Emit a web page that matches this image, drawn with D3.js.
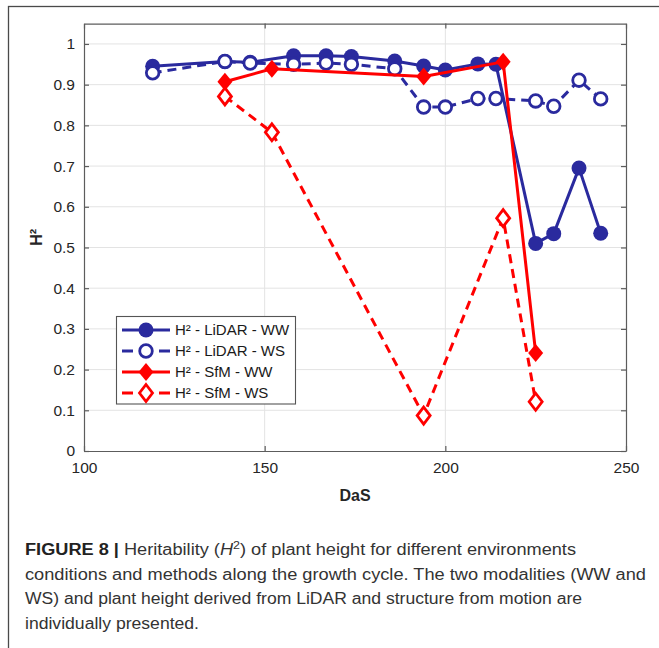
<!DOCTYPE html>
<html>
<head>
<meta charset="utf-8">
<script src="https://cdn.jsdelivr.net/npm/d3@7"></script>
<style>
  html, body { margin: 0; padding: 0; background: #fff; }
  svg { display: block; }
</style>
</head>
<body>
<svg id="fig" width="659" height="648"></svg>
<script>
// Days after sowing at which heritability was computed
const dasLidar = [119, 139, 146, 158, 167, 174, 186, 194, 200, 209, 214, 225, 230, 237, 243];
const h2LidarWW = [0.945, 0.957, 0.955, 0.971, 0.971, 0.969, 0.958, 0.946, 0.936, 0.951, 0.950, 0.510, 0.534, 0.695, 0.535];
const h2LidarWS = [0.929, 0.957, 0.953, 0.950, 0.953, 0.950, 0.939, 0.845, 0.845, 0.866, 0.866, 0.860, 0.847, 0.911, 0.865];
const dasSfm = [139, 152, 194, 216, 225];
const h2SfmWW = [0.907, 0.939, 0.920, 0.956, 0.241];
const h2SfmWS = [0.871, 0.783, 0.087, 0.572, 0.121];

const xTicks = [100, 150, 200, 250];
const yTicks = [0, 0.1, 0.2, 0.3, 0.4, 0.5, 0.6, 0.7, 0.8, 0.9, 1];
const seriesNames = ["H² - LiDAR - WW", "H² - LiDAR - WS", "H² - SfM - WW", "H² - SfM - WS"];

const BLUE = "#2a2a9e";
const RED = "#ff0000";

const svg = d3.select("#fig");

// outer figure frame
svg.append("rect")
  .attr("x", 8.5).attr("y", 6.5)
  .attr("width", 700).attr("height", 700)
  .attr("fill", "none").attr("stroke", "#4a4a4a").attr("stroke-width", 1.3);

const plot = { left: 84, right: 626, top: 23.6, bottom: 451 };
const x = d3.scaleLinear().domain([100, 250]).range([plot.left, plot.right]);
const y = d3.scaleLinear().domain([0, 1.05]).range([plot.bottom, plot.top]);

// grid
const grid = svg.append("g");
grid.selectAll(".gx").data(xTicks.slice(1, -1)).join("line")
  .attr("x1", d => x(d)).attr("x2", d => x(d))
  .attr("y1", plot.top).attr("y2", plot.bottom)
  .attr("stroke", "#e3e3e3").attr("stroke-width", 1);
grid.selectAll(".gy").data(yTicks.slice(1)).join("line")
  .attr("x1", plot.left).attr("x2", plot.right)
  .attr("y1", d => y(d)).attr("y2", d => y(d))
  .attr("stroke", "#e3e3e3").attr("stroke-width", 1);

// axes (ticks inside, box on all four sides)
const axisColor = "#5c5c5c";
const axFont = "Liberation Sans, Arial, sans-serif";
function styleAxis(g) {
  g.select(".domain").attr("stroke", axisColor).attr("stroke-width", 1.2);
  g.selectAll(".tick line").attr("stroke", axisColor).attr("stroke-width", 1.2);
  g.selectAll(".tick text").attr("fill", "#262626")
    .attr("font-family", axFont).attr("font-size", 15.5);
}
svg.append("g").attr("transform", `translate(0,${plot.bottom})`)
  .call(d3.axisBottom(x).tickValues(xTicks).tickSizeInner(-5).tickSizeOuter(0).tickPadding(11).tickFormat(d3.format("d")))
  .call(styleAxis);
svg.append("g").attr("transform", `translate(0,${plot.top})`)
  .call(d3.axisTop(x).tickValues(xTicks).tickSizeInner(-5).tickSizeOuter(0).tickFormat(""))
  .call(styleAxis);
svg.append("g").attr("transform", `translate(${plot.left},0)`)
  .call(d3.axisLeft(y).tickValues(yTicks).tickSizeInner(-5).tickSizeOuter(0).tickPadding(9).tickFormat(d => d === 0 || d === 1 ? d3.format("d")(d) : d3.format(".1f")(d)))
  .call(styleAxis);
svg.append("g").attr("transform", `translate(${plot.right},0)`)
  .call(d3.axisRight(y).tickValues(yTicks).tickSizeInner(-5).tickSizeOuter(0).tickFormat(""))
  .call(styleAxis);

// axis titles
svg.append("text")
  .attr("x", (plot.left + plot.right) / 2).attr("y", 501)
  .attr("text-anchor", "middle")
  .attr("font-family", axFont).attr("font-size", 16).attr("font-weight", "bold")
  .attr("fill", "#262626").text("DaS");
svg.append("text")
  .attr("transform", `translate(42,${(plot.top + plot.bottom) / 2}) rotate(-90)`)
  .attr("text-anchor", "middle")
  .attr("font-family", axFont).attr("font-size", 16).attr("font-weight", "bold")
  .attr("fill", "#262626").text("H²");

// markers
function circleFilled(g, cx, cy) {
  g.append("circle").attr("cx", cx).attr("cy", cy).attr("r", 7.5).attr("fill", BLUE);
}
function circleOpen(g, cx, cy) {
  g.append("circle").attr("cx", cx).attr("cy", cy).attr("r", 6.3)
    .attr("fill", "#fff").attr("stroke", BLUE).attr("stroke-width", 2.8);
}
function diamondPath(cx, cy, w, h) {
  return `M${cx},${cy - h} L${cx + w},${cy} L${cx},${cy + h} L${cx - w},${cy} Z`;
}
function diamondFilled(g, cx, cy) {
  g.append("path").attr("d", diamondPath(cx, cy, 7.5, 9)).attr("fill", RED);
}
function diamondOpen(g, cx, cy) {
  g.append("path").attr("d", diamondPath(cx, cy, 6.5, 8.5))
    .attr("fill", "#fff").attr("stroke", RED).attr("stroke-width", 2.8);
}

const series = [
  { das: dasLidar, h2: h2LidarWW, color: BLUE, dash: null, marker: circleFilled },
  { das: dasLidar, h2: h2LidarWS, color: BLUE, dash: "9,6", marker: circleOpen },
  { das: dasSfm, h2: h2SfmWW, color: RED, dash: null, marker: diamondFilled },
  { das: dasSfm, h2: h2SfmWS, color: RED, dash: "9,6", marker: diamondOpen }
];

const line = d3.line().x(d => x(d[0])).y(d => y(d[1]));
series.forEach(s => {
  const g = svg.append("g");
  const pts = s.das.map((d, i) => [d, s.h2[i]]);
  g.append("path").datum(pts).attr("d", line)
    .attr("fill", "none").attr("stroke", s.color).attr("stroke-width", 3)
    .attr("stroke-dasharray", s.dash)
    .attr("stroke-linejoin", "round");
  pts.forEach(p => s.marker(g, x(p[0]), y(p[1])));
});

// legend
const lg = svg.append("g");
lg.append("rect").attr("x", 116.5).attr("y", 316.5).attr("width", 179).attr("height", 87.5)
  .attr("fill", "#fff").attr("stroke", "#555").attr("stroke-width", 1.1);
series.forEach((s, i) => {
  const cy = 330 + i * 21;
  lg.append("line").attr("x1", 122).attr("x2", 170).attr("y1", cy).attr("y2", cy)
    .attr("stroke", s.color).attr("stroke-width", 3).attr("stroke-dasharray", s.dash ? "11,26,11" : null);
  s.marker(lg, 146, cy);
  lg.append("text").attr("x", 175).attr("y", cy + 5)
    .attr("font-family", axFont).attr("font-size", 15).attr("fill", "#1a1a1a")
    .text(seriesNames[i]);
});

// caption
const capFont = "Liberation Sans, Arial, sans-serif";
const cap = svg.append("g").attr("font-family", capFont).attr("font-size", 16).attr("fill", "#333");
const capX = 25, capY0 = 555, capDy = 24.5;

const l1 = cap.append("text").attr("x", capX).attr("y", capY0).attr("textLength", 551).attr("lengthAdjust", "spacingAndGlyphs");
l1.append("tspan").attr("font-weight", "bold").attr("fill", "#222").text("FIGURE 8 |");
l1.append("tspan").text(" Heritability (");
l1.append("tspan").attr("font-style", "italic").text("H");
l1.append("tspan").attr("font-size", 11).attr("dy", -6).text("2");
l1.append("tspan").attr("dy", 6).text(") of plant height for different environments");

cap.append("text").attr("x", capX).attr("y", capY0 + capDy).attr("textLength", 621).attr("lengthAdjust", "spacingAndGlyphs")
  .text("conditions and methods along the growth cycle. The two modalities (WW and");
cap.append("text").attr("x", capX).attr("y", capY0 + 2 * capDy).attr("textLength", 557).attr("lengthAdjust", "spacingAndGlyphs")
  .text("WS) and plant height derived from LiDAR and structure from motion are");
cap.append("text").attr("x", capX).attr("y", capY0 + 3 * capDy).attr("textLength", 174).attr("lengthAdjust", "spacingAndGlyphs")
  .text("individually presented.");
</script>
</body>
</html>
